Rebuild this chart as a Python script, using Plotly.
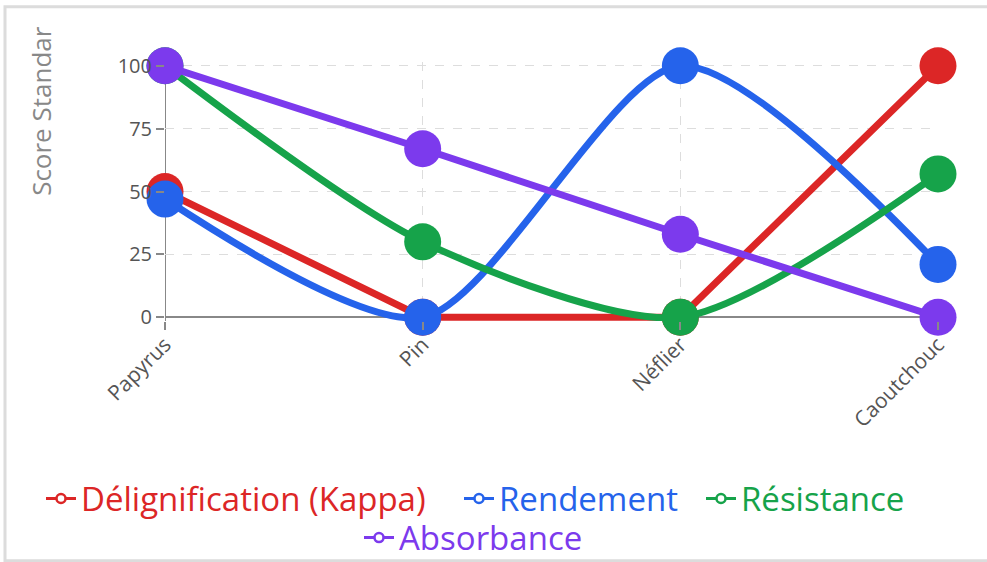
import plotly.graph_objects as go

categories = ["Papyrus", "Pin", "Néflier", "Caoutchouc"]
series_names = ["Délignification (Kappa)", "Rendement", "Résistance", "Absorbance"]
delignification = [50, 0, 0, 100]
rendement = [47, 0, 100, 21]
resistance = [100, 30, 0, 57]
absorbance = [100, 67, 33, 0]
y_ticks = [0, 25, 50, 75, 100]
y_title = "Score Standar"

colors = ["#dc2626", "#2563eb", "#16a34a", "#7c3aed"]
shapes = ["linear", "spline", "spline", "spline"]
values = [delignification, rendement, resistance, absorbance]

W, H = 987, 562
PAD = 1.5  # data units of padding so the line at 0 is fully visible
Y0_PX, Y100_PX = 317, 66
UNIT = (Y0_PX - Y100_PX) / 100
L, R = 165, 49
T = Y100_PX - PAD * UNIT
B = H - (Y0_PX + PAD * UNIT)
PW, PH = W - L - R, H - T - B

def px_x(px):
    return (px - L) / PW

def px_y(py):
    return (H - B - py) / PH

fig = go.Figure()
for name, vals, col, shp in zip(series_names, values, colors, shapes):
    fig.add_trace(go.Scatter(
        x=categories, y=vals, mode="lines+markers", showlegend=False,
        line=dict(color=col, width=7, shape=shp, smoothing=0.75),
        marker=dict(color=col, size=37, line=dict(width=0)),
        cliponaxis=False, hoverinfo="skip",
    ))

# legend entries: one small legend per entry, laid out like the reference
legend_ids = ["legend", "legend2", "legend3", "legend4"]
legend_pos = [(41, 498), (459, 498), (701, 498), (359, 537)]
legend_font = dict(family="Open Sans, sans-serif", size=33)
for name, col, lid in zip(series_names, colors, legend_ids):
    fig.add_trace(go.Scatter(
        x=[None], y=[None], mode="lines+markers",
        name=f'<span style="color:{col}">{name}</span>',
        line=dict(color=col, width=3),
        marker=dict(color="white", size=9, symbol="circle", line=dict(color=col, width=2.5)),
        legend=lid,
    ))

tick_font = dict(family="Open Sans, sans-serif", size=20, color="#555555")
layout_legends = {}
for lid, (lx, ly) in zip(legend_ids, legend_pos):
    layout_legends[lid] = dict(orientation="v", x=px_x(lx), xanchor="left", y=px_y(ly),
                               yanchor="middle", font=legend_font, bgcolor="rgba(0,0,0,0)")

fig.update_layout(
    width=W, height=H,
    margin=dict(l=L, r=R, t=T, b=B, autoexpand=False),
    paper_bgcolor="white", plot_bgcolor="white",
    xaxis=dict(
        type="category", range=[0, 3], showgrid=True, gridcolor="#dddddd", griddash="dash",
        gridwidth=1, showline=False, ticks="outside",
        ticklen=8, tickcolor="#888888", tickwidth=2, tickangle=-45, automargin=False,
        ticklabelstandoff=-6,
        tickfont=dict(family="Open Sans, sans-serif", size=21, color="#555555"), zeroline=False,
    ),
    yaxis=dict(
        range=[-PAD, 100 + PAD], tickvals=y_ticks, showgrid=True, gridcolor="#dddddd",
        griddash="dash", gridwidth=1, showline=False, ticks="outside", automargin=False,
        ticklen=8, tickcolor="#888888", tickwidth=2,
        tickfont=tick_font, zeroline=True, zerolinecolor="#888888", zerolinewidth=2,
    ),
    showlegend=True,
    **layout_legends,
)

# y axis line from below 0 up to 100
fig.add_shape(type="line", xref="x", yref="y", x0=0, x1=0, y0=-PAD - 3, y1=100,
              line=dict(color="#888888", width=2), layer="below")

fig.add_annotation(
    text=y_title, textangle=-90, xref="paper", yref="paper",
    x=px_x(41), y=px_y(111), xanchor="center", yanchor="middle",
    showarrow=False, font=dict(family="Open Sans, sans-serif", size=26, color="#888888"),
)

# frame around the chart (top, left, bottom visible)
fig.add_shape(type="rect", xref="paper", yref="paper",
              x0=px_x(5), x1=px_x(1005), y0=px_y(560), y1=px_y(7),
              line=dict(color="#dcdcdc", width=3), layer="below")

fig.write_html("out.html")
